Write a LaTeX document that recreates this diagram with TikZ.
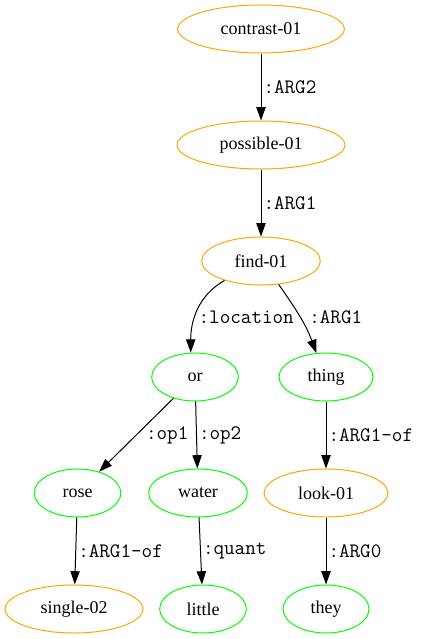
\documentclass[tikz,border=0pt]{standalone}
\usepackage{fontspec}
\setmainfont{Liberation Serif}
\usetikzlibrary{shapes.geometric}
\usetikzlibrary{arrows.meta}
\definecolor{amrorange}{HTML}{FFA500}
\definecolor{amrgreen}{HTML}{00FF00}

\begin{document}
\begin{tikzpicture}[x=0.75pt, y=-0.75pt]
                \tikzstyle{concept} = [draw={#1}, ellipse, line width=0.75pt, inner sep=0pt, minimum height=36pt, font=\fontsize{13.5}{16}\selectfont]
                \tikzstyle{role} = [line width=0.75pt, -{Triangle[length=10pt, width=7pt]}]
                \tikzstyle{rolelabel} = [anchor=west, inner sep=0pt, font=\ttfamily\fontsize{15.4}{18}\selectfont]
                \useasboundingbox (0, 0) rectangle (421, 639);
                \node[concept=amrorange, minimum width=125pt] (contrast) at (261, 29) {contrast-01};
                \node[concept=amrorange, minimum width=126pt] (possible) at (261, 145) {possible-01};
                \node[concept=amrorange, minimum width=89pt] (find) at (261, 261) {find-01};
                \node[concept=amrgreen, minimum width=65pt] (or) at (195, 377) {or};
                \node[concept=amrgreen, minimum width=70.5pt] (thing) at (326, 377) {thing};
                \node[concept=amrgreen, minimum width=65pt] (rose) at (77.5, 493) {rose};
                \node[concept=amrgreen, minimum width=74pt] (water) at (198, 493) {water};
                \node[concept=amrorange, minimum width=93pt] (look) at (326, 493) {look-01};
                \node[concept=amrorange, minimum width=103.5pt] (single) at (74, 609) {single-02};
                \node[concept=amrgreen, minimum width=65pt] (little) at (203, 609) {little};
                \node[concept=amrgreen, minimum width=64.5pt] (they) at (326, 609) {they};
                \draw[role] (contrast) -- node[rolelabel, xshift=1.5pt] {:ARG2} (possible);
                \draw[role] (possible) -- node[rolelabel, xshift=1.5pt] {:ARG1} (find);
                \draw[role] (find.-152) to[out=-150, in=90] node[rolelabel, xshift=0.5pt, yshift=-5pt] {:location} (or.100);
                \draw[role] (find.-53) to[out=-55, in=110] node[rolelabel, xshift=6.5pt] {:ARG1} (thing.112);
                \draw[role] (or) -- node[rolelabel, xshift=7pt] {:op1} (rose);
                \draw[role] (or) -- node[rolelabel, xshift=1.5pt] {:op2} (water);
                \draw[role] (thing) -- node[rolelabel, xshift=1.5pt] {:ARG1-of} (look);
                \draw[role] (rose) -- node[rolelabel, xshift=1.5pt] {:ARG1-of} (single);
                \draw[role] (water) -- node[rolelabel, xshift=1.5pt] {:quant} (little);
                \draw[role] (look) -- node[rolelabel, xshift=1.5pt] {:ARG0} (they);
            \end{tikzpicture}
\end{document}
